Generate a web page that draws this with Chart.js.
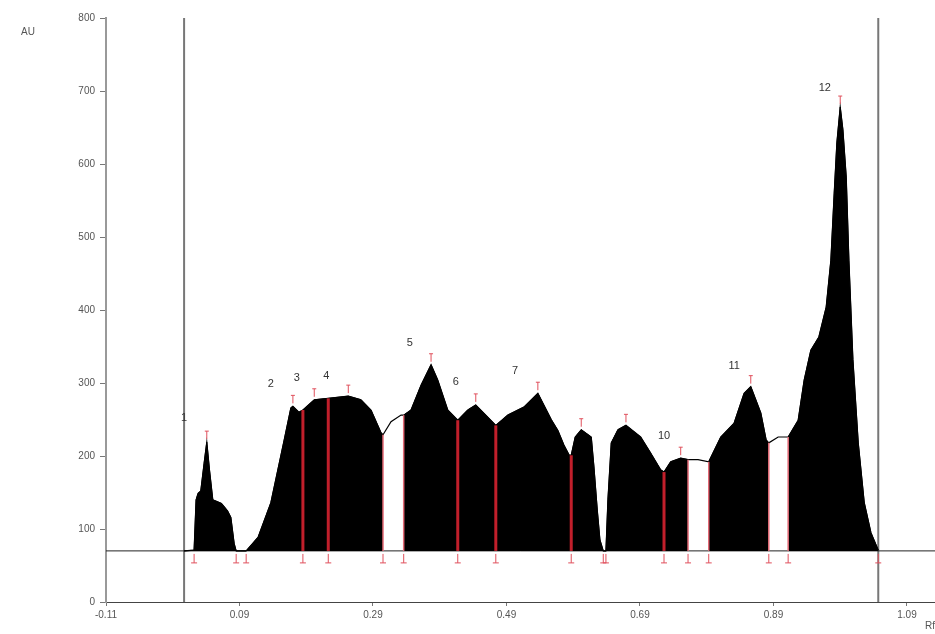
<!DOCTYPE html>
<html>
<head>
<meta charset="utf-8">
<script src="https://cdn.jsdelivr.net/npm/chart.js@4/dist/chart.umd.min.js"></script>
<style>
  html, body { margin: 0; padding: 0; background: #fff; }
</style>
</head>
<body>
<canvas id="chromatogram" width="935" height="634"></canvas>
<script>
// densitogram trace, Rf vs AU
var rf = [0.007,0.022,0.025,0.028,0.032,0.037,0.041,0.045,0.050,0.063,0.072,0.077,0.082,0.085,0.092,0.100,0.118,0.137,0.157,0.167,
  0.170,0.179,0.185,0.202,0.223,0.253,0.272,0.287,0.302,0.305,0.317,0.332,0.336,0.347,0.362,0.377,0.387,0.402,0.417,0.432,
  0.444,0.459,0.474,0.492,0.516,0.537,0.557,0.567,0.576,0.584,0.587,0.593,0.602,0.617,0.621,0.626,0.630,0.635,0.639,0.642,
  0.647,0.657,0.669,0.691,0.706,0.721,0.726,0.736,0.751,0.762,0.777,0.793,0.811,0.831,0.846,0.856,0.871,0.879,0.883,0.897,
  0.912,0.927,0.936,0.946,0.958,0.969,0.976,0.981,0.985,0.990,0.994,0.999,1.003,1.009,1.017,1.026,1.036,1.047];
var au = [70,71,140,149,152,190,219,181,140,135,125,116,80,70,70,70,89,136,222,266,
  268,260,263,277,279,282,277,263,232,229,247,256,256,263,297,325,304,263,249,263,
  270,256,242,256,267,286,250,235,215,201,201,226,236,226,185,126,85,70,70,140,
  218,236,242,226,204,181,178,192,197,195,195,192,226,245,286,295,259,222,218,226,
  226,249,304,345,363,404,468,560,629,678,647,582,468,332,218,136,95,71];

var baseAU = 70;
var fillRanges = [[0.007, 0.305], [0.336, 0.762], [0.793, 0.883], [0.912, 1.047]];
var innerCutRf = [0.185, 0.223, 0.417, 0.474, 0.587, 0.726];
var gapEdgeRf = [0.305, 0.336, 0.762, 0.793, 0.883, 0.912];
var peakRf = [0.041, 0.170, 0.202, 0.253, 0.377, 0.444, 0.537, 0.602, 0.669, 0.751, 0.856, 0.990];
var footRf = [0.022, 0.085, 0.100, 0.185, 0.223, 0.305, 0.336, 0.417, 0.474, 0.587, 0.635, 0.639, 0.726, 0.762, 0.793, 0.883, 0.912, 1.047];
var frontRf = [0.007, 1.047];

var peakNames = ["1", "2", "3", "4", "5", "6", "7", "10", "11", "12"];
var nameRf = [0.007, 0.137, 0.176, 0.220, 0.345, 0.414, 0.503, 0.726, 0.831, 0.967];
var nameAU = [252, 299, 307, 310, 355, 301, 316, 227, 323, 704];

var xTicks = [-0.11, 0.09, 0.29, 0.49, 0.69, 0.89, 1.09];

var trace = rf.map(function (v, i) { return { x: v, y: au[i] }; });
function heightAt(v) { return au[rf.indexOf(v)]; }

var datasets = [];
fillRanges.forEach(function (r) {
  datasets.push({
    data: trace.filter(function (p) { return p.x >= r[0] && p.x <= r[1]; }),
    borderColor: '#000', borderWidth: 1, backgroundColor: '#000',
    fill: { value: baseAU }, pointRadius: 0, tension: 0
  });
});
datasets.push({
  data: trace, borderColor: '#000', borderWidth: 1.2, fill: false, pointRadius: 0, tension: 0
});
datasets.push({
  data: [{ x: -0.11, y: baseAU }, { x: 1.132, y: baseAU }],
  borderColor: '#222', borderWidth: 1, fill: false, pointRadius: 0
});
frontRf.forEach(function (v) {
  datasets.push({
    data: [{ x: v, y: 0 }, { x: v, y: 800 }],
    borderColor: '#777', borderWidth: 2, fill: false, pointRadius: 0
  });
});

var decor = {
  id: 'decor',
  afterDatasetsDraw: function (chart) {
    var ctx = chart.ctx, x = chart.scales.x, y = chart.scales.y, area = chart.chartArea;
    var yb = y.getPixelForValue(baseAU);
    function seg(x1, y1, x2, y2) { ctx.beginPath(); ctx.moveTo(x1, y1); ctx.lineTo(x2, y2); ctx.stroke(); }
    ctx.save();
    ctx.strokeStyle = '#c11f2b'; ctx.lineWidth = 3;
    innerCutRf.forEach(function (v) {
      var px = x.getPixelForValue(v);
      seg(px, yb, px, y.getPixelForValue(heightAt(v)));
    });
    ctx.strokeStyle = '#e46a76'; ctx.lineWidth = 1.5;
    gapEdgeRf.forEach(function (v) {
      var px = x.getPixelForValue(v);
      seg(px, yb, px, y.getPixelForValue(heightAt(v)));
    });
    ctx.strokeStyle = '#e0505c'; ctx.lineWidth = 1;
    peakRf.forEach(function (v) {
      var px = x.getPixelForValue(v), py = y.getPixelForValue(heightAt(v));
      seg(px, py - 11, px, py - 3);
      seg(px - 2, py - 11, px + 2, py - 11);
    });
    footRf.forEach(function (v) {
      var px = x.getPixelForValue(v);
      seg(px, yb + 3, px, yb + 12);
      seg(px - 3, yb + 12, px + 3, yb + 12);
    });
    ctx.fillStyle = '#333';
    ctx.font = '11px "Liberation Sans", Arial, sans-serif';
    ctx.textAlign = 'center'; ctx.textBaseline = 'middle';
    peakNames.forEach(function (t, i) {
      ctx.fillText(t, x.getPixelForValue(nameRf[i]), y.getPixelForValue(nameAU[i]));
    });
    ctx.fillStyle = '#555';
    ctx.font = '10px "Liberation Sans", Arial, sans-serif';
    ctx.fillText('AU', area.left - 78, area.top + 14);
    ctx.textAlign = 'right';
    ctx.fillText('Rf', area.right, area.bottom + 24);
    ctx.restore();
  }
};

new Chart(document.getElementById('chromatogram'), {
  type: 'line',
  data: { datasets: datasets },
  plugins: [decor],
  options: {
    responsive: false,
    animation: false,
    layout: { padding: { top: 18, right: 0, bottom: 0, left: 0 } },
    plugins: { legend: { display: false }, tooltip: { enabled: false } },
    scales: {
      x: {
        type: 'linear', min: -0.11, max: 1.132,
        afterBuildTicks: function (s) { s.ticks = xTicks.map(function (v) { return { value: v }; }); },
        afterFit: function (s) { s.height = 32; },
        ticks: {
          color: '#555', font: { family: '"Liberation Sans", Arial', size: 10 }, padding: 3, maxRotation: 0,
          callback: function (v) { return Number(v).toFixed(2); }
        },
        grid: { drawOnChartArea: false, tickLength: 4, color: '#777' },
        border: { color: '#444', width: 1 }
      },
      y: {
        min: 0, max: 800,
        afterFit: function (s) { s.width = 106; },
        ticks: { stepSize: 100, color: '#555', font: { family: '"Liberation Sans", Arial', size: 10 }, padding: 5 },
        grid: { drawOnChartArea: false, tickLength: 6, color: '#777' },
        border: { color: '#999', width: 2 }
      }
    }
  }
});
</script>
</body>
</html>
